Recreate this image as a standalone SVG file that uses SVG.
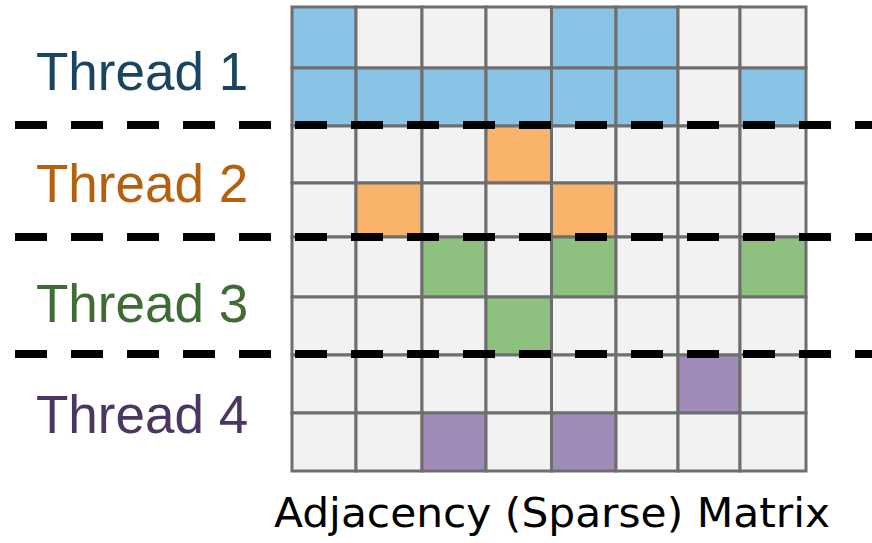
<svg xmlns="http://www.w3.org/2000/svg" width="872" height="543" viewBox="0 0 872 543">
<style>
.c{stroke:#6e6e6e;stroke-width:3}
.e{fill:#f2f2f2}.b{fill:#89c3e6}.o{fill:#fab36a}.g{fill:#8ec080}.p{fill:#a08ab8}
.t{font-family:"Liberation Sans",Arial,sans-serif;font-size:53px}
.d{stroke:#000;stroke-width:8;stroke-dasharray:32 24;fill:none}
</style>
<rect width="872" height="543" fill="#fff"/>
<g id="matrix">
<g id="row0">
<rect class="c b" x="292" y="7" width="64" height="61"/><rect class="c e" x="356" y="7" width="66" height="61"/><rect class="c e" x="422" y="7" width="64" height="61"/><rect class="c e" x="486" y="7" width="65.5" height="61"/><rect class="c b" x="551.5" y="7" width="64.5" height="61"/><rect class="c b" x="616" y="7" width="62" height="61"/><rect class="c e" x="678" y="7" width="62" height="61"/><rect class="c e" x="740" y="7" width="66" height="61"/>
</g>
<g id="row1">
<rect class="c b" x="292" y="68" width="64" height="58"/><rect class="c b" x="356" y="68" width="66" height="58"/><rect class="c b" x="422" y="68" width="64" height="58"/><rect class="c b" x="486" y="68" width="65.5" height="58"/><rect class="c b" x="551.5" y="68" width="64.5" height="58"/><rect class="c b" x="616" y="68" width="62" height="58"/><rect class="c e" x="678" y="68" width="62" height="58"/><rect class="c b" x="740" y="68" width="66" height="58"/>
</g>
<g id="row2">
<rect class="c e" x="292" y="126" width="64" height="57"/><rect class="c e" x="356" y="126" width="66" height="57"/><rect class="c e" x="422" y="126" width="64" height="57"/><rect class="c o" x="486" y="126" width="65.5" height="57"/><rect class="c e" x="551.5" y="126" width="64.5" height="57"/><rect class="c e" x="616" y="126" width="62" height="57"/><rect class="c e" x="678" y="126" width="62" height="57"/><rect class="c e" x="740" y="126" width="66" height="57"/>
</g>
<g id="row3">
<rect class="c e" x="292" y="183" width="64" height="54"/><rect class="c o" x="356" y="183" width="66" height="54"/><rect class="c e" x="422" y="183" width="64" height="54"/><rect class="c e" x="486" y="183" width="65.5" height="54"/><rect class="c o" x="551.5" y="183" width="64.5" height="54"/><rect class="c e" x="616" y="183" width="62" height="54"/><rect class="c e" x="678" y="183" width="62" height="54"/><rect class="c e" x="740" y="183" width="66" height="54"/>
</g>
<g id="row4">
<rect class="c e" x="292" y="237" width="64" height="60"/><rect class="c e" x="356" y="237" width="66" height="60"/><rect class="c g" x="422" y="237" width="64" height="60"/><rect class="c e" x="486" y="237" width="65.5" height="60"/><rect class="c g" x="551.5" y="237" width="64.5" height="60"/><rect class="c e" x="616" y="237" width="62" height="60"/><rect class="c e" x="678" y="237" width="62" height="60"/><rect class="c g" x="740" y="237" width="66" height="60"/>
</g>
<g id="row5">
<rect class="c e" x="292" y="297" width="64" height="58"/><rect class="c e" x="356" y="297" width="66" height="58"/><rect class="c e" x="422" y="297" width="64" height="58"/><rect class="c g" x="486" y="297" width="65.5" height="58"/><rect class="c e" x="551.5" y="297" width="64.5" height="58"/><rect class="c e" x="616" y="297" width="62" height="58"/><rect class="c e" x="678" y="297" width="62" height="58"/><rect class="c e" x="740" y="297" width="66" height="58"/>
</g>
<g id="row6">
<rect class="c e" x="292" y="355" width="64" height="58"/><rect class="c e" x="356" y="355" width="66" height="58"/><rect class="c e" x="422" y="355" width="64" height="58"/><rect class="c e" x="486" y="355" width="65.5" height="58"/><rect class="c e" x="551.5" y="355" width="64.5" height="58"/><rect class="c e" x="616" y="355" width="62" height="58"/><rect class="c p" x="678" y="355" width="62" height="58"/><rect class="c e" x="740" y="355" width="66" height="58"/>
</g>
<g id="row7">
<rect class="c e" x="292" y="413" width="64" height="58"/><rect class="c e" x="356" y="413" width="66" height="58"/><rect class="c p" x="422" y="413" width="64" height="58"/><rect class="c e" x="486" y="413" width="65.5" height="58"/><rect class="c p" x="551.5" y="413" width="64.5" height="58"/><rect class="c e" x="616" y="413" width="62" height="58"/><rect class="c e" x="678" y="413" width="62" height="58"/><rect class="c e" x="740" y="413" width="66" height="58"/>
</g>
</g>
<g id="dividers">
<line class="d" x1="15" y1="125" x2="872" y2="125"/>
<line class="d" x1="15" y1="237" x2="872" y2="237"/>
<line class="d" x1="15" y1="354" x2="872" y2="354"/>
</g>
<g id="labels">
<text class="t" x="36" y="90" fill="#1a4560">Thread 1</text>
<text class="t" x="36" y="202" fill="#b5600f">Thread 2</text>
<text class="t" x="36" y="322" fill="#3f6b35">Thread 3</text>
<text class="t" x="36" y="433" fill="#4a3660">Thread 4</text>
<text x="274" y="527" font-family="'DejaVu Sans',Verdana,sans-serif" font-size="41" textLength="556" lengthAdjust="spacingAndGlyphs" fill="#000">Adjacency (Sparse) Matrix</text>
</g>
</svg>
